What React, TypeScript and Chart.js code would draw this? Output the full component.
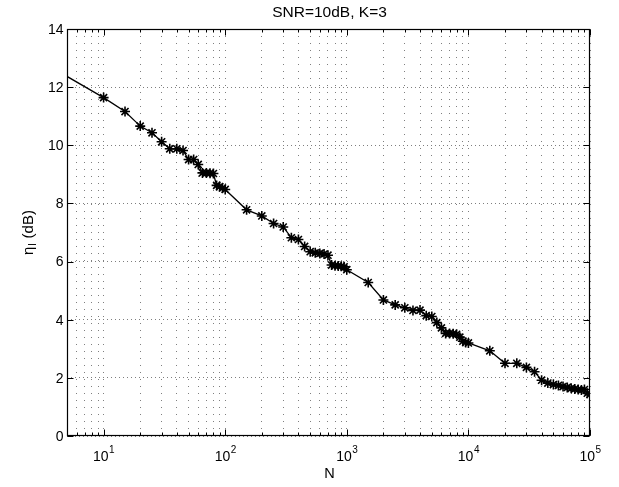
import { useEffect, useRef } from "react";
import { Chart, registerables } from "chart.js";

Chart.register(...registerables);

const TITLE = "SNR=10dB, K=3";
const X_LABEL = "N";
const Y_LABEL_MAIN = "η";
const Y_LABEL_SUB = "I";
const Y_LABEL_REST = " (dB)";

const N_VALUES = [
  5, 10, 15, 20, 25, 30, 35, 40, 45, 50, 55, 60, 65, 70, 75, 80, 85, 90, 95, 100,
  150, 200, 250, 300, 350, 400, 450, 500, 550, 600, 650, 700, 750, 800, 850, 900, 950, 1000,
  1500, 2000, 2500, 3000, 3500, 4000, 4500, 5000, 5500, 6000, 6500, 7000, 7500, 8000, 8500, 9000, 9500, 10000,
  15000, 20000, 25000, 30000, 35000, 40000, 45000, 50000, 55000, 60000, 65000, 70000, 75000, 80000, 85000, 90000, 95000, 100000,
];

const ETA_DB = [
  12.37, 11.64, 11.16, 10.66, 10.43, 10.12, 9.88, 9.88, 9.82, 9.51, 9.51, 9.34, 9.05, 9.05, 9.04, 9.03, 8.62, 8.58, 8.53, 8.48,
  7.78, 7.57, 7.31, 7.19, 6.82, 6.76, 6.52, 6.34, 6.3, 6.28, 6.26, 6.22, 5.88, 5.86, 5.85, 5.84, 5.82, 5.72,
  5.28, 4.68, 4.51, 4.41, 4.32, 4.33, 4.14, 4.11, 3.9, 3.72, 3.53, 3.53, 3.52, 3.5, 3.4, 3.26, 3.22, 3.2,
  2.93, 2.5, 2.5, 2.36, 2.21, 1.92, 1.82, 1.77, 1.74, 1.7, 1.67, 1.64, 1.62, 1.6, 1.58, 1.6, 1.47, 1.43,
];

const X_MIN = 5;
const X_MAX = 100000;
const Y_MIN = 0;
const Y_MAX = 14;
const Y_TICKS = [0, 2, 4, 6, 8, 10, 12, 14];
const X_MAJOR = [10, 100, 1000, 10000, 100000];
const X_MAJOR_EXP = ["1", "2", "3", "4", "5"];

const FONT = '"Liberation Sans", Arial, Helvetica, sans-serif';

function xGridValues(): number[] {
  const out: number[] = [];
  for (let p = 0; p <= 5; p++) {
    for (let m = 1; m <= 9; m++) {
      const v = m * Math.pow(10, p);
      if (v > X_MIN && v <= X_MAX) out.push(v);
    }
  }
  return out;
}

const matlabPlugin = {
  id: "matlabAxes",
  afterDraw(chart: any) {
    const { ctx, chartArea } = chart;
    const xs = chart.scales.x;
    const ys = chart.scales.y;
    const L = Math.round(chartArea.left) + 0.5;
    const R = Math.round(chartArea.right) - 0.5;
    const T = Math.round(chartArea.top) + 0.5;
    const B = Math.round(chartArea.bottom) - 0.5;
    ctx.save();
    ctx.strokeStyle = "#000";
    ctx.lineWidth = 1.2;
    ctx.setLineDash([]);
    ctx.strokeRect(L, T, R - L, B - T);

    ctx.lineWidth = 1;
    ctx.beginPath();
    for (const v of xGridValues()) {
      const px = Math.round(xs.getPixelForValue(v)) + 0.5;
      const major = X_MAJOR.includes(v);
      const len = major ? 6 : 3;
      ctx.moveTo(px, B);
      ctx.lineTo(px, B - len);
      ctx.moveTo(px, T);
      ctx.lineTo(px, T + len);
    }
    for (const v of Y_TICKS) {
      const py = Math.round(ys.getPixelForValue(v)) + 0.5;
      ctx.moveTo(L, py);
      ctx.lineTo(L + 6, py);
      ctx.moveTo(R, py);
      ctx.lineTo(R - 6, py);
    }
    ctx.stroke();

    ctx.fillStyle = "#000";
    ctx.font = `14px ${FONT}`;
    ctx.textAlign = "right";
    ctx.textBaseline = "middle";
    for (const v of Y_TICKS) {
      const py = ys.getPixelForValue(v);
      ctx.fillText(String(v), L - 4, py + 1);
    }

    ctx.textBaseline = "alphabetic";
    ctx.textAlign = "left";
    X_MAJOR.forEach((v, i) => {
      const px = xs.getPixelForValue(v);
      ctx.font = `14px ${FONT}`;
      const wBase = ctx.measureText("10").width;
      ctx.font = `10px ${FONT}`;
      const wExp = ctx.measureText(X_MAJOR_EXP[i]).width;
      const start = px - (wBase + wExp) / 2;
      ctx.font = `14px ${FONT}`;
      ctx.fillText("10", start, B + 25);
      ctx.font = `10px ${FONT}`;
      ctx.fillText(X_MAJOR_EXP[i], start + wBase + 0.5, B + 17);
    });

    ctx.font = `14.5px ${FONT}`;
    ctx.textAlign = "center";
    ctx.fillText(X_LABEL, (L + R) / 2 + 1, B + 42);

    ctx.font = `15.5px ${FONT}`;
    ctx.fillText(TITLE, (L + R) / 2 + 1, 17);

    ctx.save();
    ctx.translate(33, (T + B) / 2);
    ctx.rotate(-Math.PI / 2);
    ctx.textAlign = "left";
    ctx.font = `15px ${FONT}`;
    const w1 = ctx.measureText(Y_LABEL_MAIN).width;
    const w3 = ctx.measureText(Y_LABEL_REST).width;
    ctx.font = `10.5px ${FONT}`;
    const w2 = ctx.measureText(Y_LABEL_SUB).width;
    const total = w1 + w2 + w3 + 1;
    let sx = -total / 2;
    ctx.font = `15px ${FONT}`;
    ctx.fillText(Y_LABEL_MAIN, sx, 0);
    sx += w1 + 0.5;
    ctx.font = `10.5px ${FONT}`;
    ctx.fillText(Y_LABEL_SUB, sx, 3);
    sx += w2 + 0.5;
    ctx.font = `15px ${FONT}`;
    ctx.fillText(Y_LABEL_REST, sx, 0);
    ctx.restore();

    ctx.restore();
  },
};

export default function App() {
  const ref = useRef<HTMLCanvasElement | null>(null);

  useEffect(() => {
    if (!ref.current) return;
    const points = N_VALUES.map((n, i) => ({ x: n, y: ETA_DB[i] }));
    const chart = new Chart(ref.current, {
      type: "line",
      data: {
        datasets: [
          {
            data: points,
            borderColor: "#000",
            backgroundColor: "#000",
            borderWidth: 1.3,
            pointStyle: "star",
            pointRadius: (c: any) => (c.dataIndex === 0 ? 0 : 5),
            pointBorderColor: "#000",
            pointBorderWidth: 1.6,
            pointHoverRadius: 0,
            tension: 0,
            fill: false,
          },
        ],
      },
      options: {
        animation: false,
        responsive: false,
        devicePixelRatio: 1,
        layout: { padding: { left: 67, right: 29, top: 29, bottom: 51 } },
        plugins: {
          legend: { display: false },
          tooltip: { enabled: false },
          title: { display: false },
        },
        scales: {
          x: {
            type: "logarithmic",
            min: X_MIN,
            max: X_MAX,
            afterBuildTicks: (s: any) => {
              s.ticks = xGridValues().map((v) => ({ value: v }));
            },
            afterFit: (s: any) => {
              s.height = 0;
            },
            ticks: { display: false },
            grid: {
              color: "rgba(0,0,0,0.5)",
              lineWidth: 1,
              drawTicks: false,
            },
            border: { display: false, dash: [1, 6] },
          },
          y: {
            type: "linear",
            min: Y_MIN,
            max: Y_MAX,
            afterBuildTicks: (s: any) => {
              s.ticks = Y_TICKS.map((v) => ({ value: v }));
            },
            afterFit: (s: any) => {
              s.width = 0;
            },
            ticks: { display: false },
            grid: {
              color: "rgba(0,0,0,0.5)",
              lineWidth: 1,
              drawTicks: false,
            },
            border: { display: false, dash: [1, 3] },
          },
        },
      },
      plugins: [matlabPlugin],
    });
    return () => chart.destroy();
  }, []);

  return (
    <div style={{ position: "absolute", left: 0, top: 0, width: 619, height: 487, background: "#fff" }}>
      <canvas ref={ref} width={619} height={487} style={{ display: "block" }} />
    </div>
  );
}
